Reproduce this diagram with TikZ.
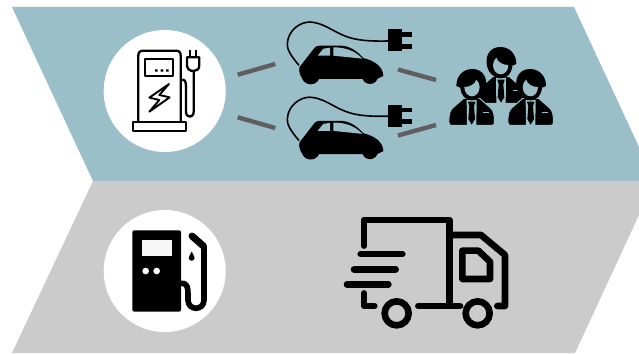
\documentclass[tikz,border=0pt]{standalone}
\definecolor{bandteal}{HTML}{9ABFC8}
\definecolor{bandgrey}{HTML}{CBCBCB}
\definecolor{linkgrey}{HTML}{5F5F5F}
\tikzset{
  icon/.style={draw=black,line width=2.3pt,line join=round},
  linkline/.style={draw=linkgrey,line width=4.4pt},
  truckline/.style={draw=black,line width=6.6pt,line cap=round,line join=round},
  badge/.style={circle,fill=white,draw=none,inner sep=0pt,minimum size=122pt},
}
\newcommand{\evcar}{%
  \fill[black] (58,172) -- (104,113) .. controls (108,109) and (112,107) .. (120,107)
    -- (185,107) .. controls (215,109) and (235,128) .. (250,144)
    .. controls (285,153) and (309,170) .. (310,198)
    -- (290,207) -- (70,207) .. controls (60,200) and (56,185) .. (58,172) -- cycle;
  \fill[black] (92,195) circle[radius=28];
  \fill[black] (270,198) circle[radius=24];
  \fill[bandteal] (113,137) -- (130,116) -- (150,113) -- (150,137) -- cycle;
  \fill[bandteal] (160,112) .. controls (195,112) and (225,122) .. (247,146) -- (160,137) -- cycle;
  \draw[black,line width=1.6pt] (57,166) .. controls (30,135) and (20,115) .. (22,100)
    .. controls (25,60) and (60,36) .. (90,36)
    .. controls (130,38) and (160,65) .. (195,78)
    .. controls (230,92) and (270,94) .. (325,93);
  \fill[black] (325,58) rectangle (367,124);
  \fill[black] (367,67) rectangle (396,80);
  \fill[black] (367,102) rectangle (396,116);
}
% person: head centre at origin; #4 = xscale of the hair sweep
\newcommand{\person}[4]{%
  \begin{scope}[shift={(#1,#2)}]
    \fill[black,draw=bandteal,line width=1pt] (-68,115) .. controls (-69,92) and (-66,78) .. (-56,70)
      -- (-24,42) -- (24,42) -- (56,70) .. controls (66,78) and (69,92) .. (68,115)
      .. controls (68,121) and (66,123) .. (60,123) -- (-60,123) .. controls (-66,123) and (-68,121) .. (-68,115) -- cycle;
    \fill[bandteal] (-15,46) -- (15,46) -- (14,123) -- (-14,123) -- cycle;
    \fill[black] (-11,52) -- (11,52) -- (7,66) -- (10,104) -- (0,121) -- (-10,104) -- (-7,66) -- cycle;
    \begin{scope}[xscale=#4]
    \fill[black] (2,-46) .. controls (32,-46) and (46,-22) .. (43,3)
      .. controls (41,28) and (24,48) .. (0,48) .. controls (-20,48) and (-32,32) .. (-34,10)
      -- (-46,5) .. controls (-46,-25) and (-26,-46) .. (2,-46) -- cycle;
    \fill[bandteal] (1,36) .. controls (-12,36) and (-22,24) .. (-22,8)
      .. controls (-6,8) and (10,0) .. (14,-14) .. controls (20,-8) and (24,0) .. (24,8)
      .. controls (24,24) and (13,36) .. (1,36) -- cycle;
    \end{scope}
    \fill[bandteal] (#3,82) rectangle ++(18,4.5);
  \end{scope}%
}
\begin{document}
\begin{tikzpicture}[x=1pt,y=-1pt]
\useasboundingbox (0,0) rectangle (639,353);
\fill[white] (0,0) rectangle (639,353);
\fill[bandteal] (12,7) -- (574,7) -- (639,147) -- (639,181) -- (93,181) -- cycle;
\fill[bandgrey] (93,181) -- (639,181) -- (639,215) -- (575,353) -- (12,353) -- cycle;

\node[badge] (evbadge) at (164.7,91) {};
\node[badge] (fuelbadge) at (164.7,271) {};

% EV charger
\begin{scope}[shift={(100,10)},scale=1/3]
  \draw[icon] (115,336) -- (115,137) .. controls (115,127) and (120,122) .. (130,122)
    -- (228,122) .. controls (238,122) and (242,127) .. (242,137) -- (242,336);
  \draw[icon] (98,336) rectangle (258,363);
  \draw[icon] (135,148) rectangle (220,198);
  \fill[black] (165,178) rectangle ++(8,7) (182,178) rectangle ++(8,7) (198,178) rectangle ++(8,7);
  \draw[icon,line width=1.9pt] (207,222) -- (148,263) -- (178,270) -- (148,305) -- (209,262) -- (178,255) -- cycle;
  \draw[icon] (242,212) .. controls (255,204) and (258,215) .. (258,230) -- (258,305)
    .. controls (258,325) and (281,325) .. (281,305) -- (281,183);
  \draw[icon] (261,142) -- (298,142) -- (298,165) .. controls (298,178) and (290,183) .. (281,183)
    .. controls (270,183) and (261,178) .. (261,165) -- cycle;
  \draw[icon] (271,142) -- (271,121) (289,142) -- (289,121);
\end{scope}

% links
\coordinate (l1a) at (237.7,74.7); \coordinate (l1b) at (275.3,64);
\coordinate (l2a) at (237.7,117.3); \coordinate (l2b) at (275.3,128);
\coordinate (l3a) at (398,69.5); \coordinate (l3b) at (436,80);
\coordinate (l4a) at (398,135.5); \coordinate (l4b) at (436,125);
\draw[linkline] (l1a) -- (l1b);
\draw[linkline] (l2a) -- (l2b);
\draw[linkline] (l3a) -- (l3b);
\draw[linkline] (l4a) -- (l4b);

% cars
\begin{scope}[shift={(280,10)},scale=1/3] \evcar \end{scope}
\begin{scope}[shift={(280,85.2)},scale=1/3] \evcar \end{scope}

% people
\begin{scope}[shift={(430,35)},scale=1/3]
  \person{213}{82}{35}{-1}
  \person{125}{148}{35}{1}
  \person{302}{148}{33}{-1}
\end{scope}

% fuel pump
\begin{scope}[shift={(100,205)},scale=1/3]
  \fill[black,rounded corners=2pt] (97,76) rectangle (243,320);
  \fill[bandgrey!15!white] (125,105) rectangle (215,152);
  \fill[white] (137,198) circle[radius=10] (170,198) circle[radius=10];
  \draw[black,line width=5.6pt,line cap=round,line join=round] (243,235)
    .. controls (262,232) and (264,250) .. (264,265) -- (264,285)
    .. controls (264,318) and (312,318) .. (312,285) -- (312,125);
  \draw[black,line width=7pt,line cap=round] (276,93) -- (310,123);
  \fill[black] (275,140) .. controls (272,150) and (265,153) .. (266,159)
    .. controls (268,170) and (282,170) .. (284,159) .. controls (285,153) and (278,150) .. (275,140) -- cycle;
\end{scope}

% truck
\begin{scope}[shift={(335,205)},scale=1/3]
  \draw[truckline] (87,122) -- (87,45) -- (343,45) -- (343,300);
  \draw[truckline] (343,90) -- (438,90) -- (510,150) -- (510,303) -- (487,303);
  \draw[truckline] (382,137) -- (430,137) -- (465,170) -- (465,222) -- (382,222) -- cycle;
  \draw[truckline] (77,147) -- (202,147);
  \draw[truckline] (57,193) -- (182,193);
  \draw[truckline] (36,238) -- (160,238);
  \draw[truckline] (87,265) -- (87,303) -- (118,303);
  \draw[truckline] (250,303) -- (375,303);
  \draw[truckline] (185,325) circle[radius=36];
  \draw[truckline] (428,325) circle[radius=36];
\end{scope}
\end{tikzpicture}
\end{document}
